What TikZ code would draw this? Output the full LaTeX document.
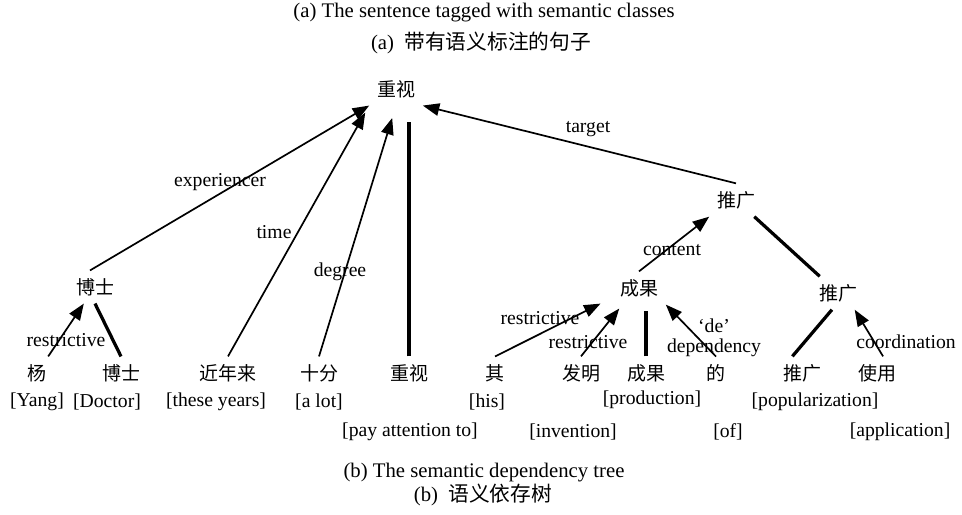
\documentclass[tikz,border=0pt]{standalone}
\usepackage{fontspec}
\setmainfont{Liberation Serif}
\newfontfamily\cjk{Noto Sans CJK SC}
\usetikzlibrary{arrows.meta}

\begin{document}
\begin{tikzpicture}[x=0.02cm, y=-0.02cm,
        word/.style={inner sep=0.15cm, font=\cjk\fontsize{10.8}{13}\selectfont},
        gloss/.style={inner sep=0pt, font=\fontsize{11.2}{13}\selectfont},
        rel/.style={inner sep=0pt, font=\fontsize{11.2}{11.4}\selectfont},
        capt/.style={inner sep=0pt, font=\fontsize{11.8}{14}\selectfont},
        dep/.style={line width=0.034cm, -{Triangle[length=3.3mm,width=2.5mm]}},
        head/.style={line width=0.065cm}]
                \useasboundingbox (0,0) rectangle (962,514);
                \node[capt] (capa) at (484,13) {(a) The sentence tagged with semantic classes};
                \node[capt] (capacn) at (481,43) {(a)\hspace{0.5em}{\cjk 带有语义标注的句子}};
                % tree
                \node[word] (top) at (396,89) {重视};
                \node[word] (bs) at (95,287) {博士};
                \node[word] (tg) at (736,200) {推广};
                \node[word] (cg) at (639,288) {成果};
                \node[word] (tgb) at (838,293) {推广};
                \foreach \n/\x/\w in {yang/37/杨, bsl/121/博士, jnl/228/近年来, sf/319/十分, zs/409/重视,
                                qi/495/其, fm/581/发明, cgl/646/成果, de/716/的, tgl/802/推广, sy/877/使用} {
                                \node[word] (\n) at (\x,373) {\w};
                        }
                % glosses
                \node[gloss] (gyang) at (37,402) {[Yang]};
                \node[gloss] (gbsl) at (107,402) {[Doctor]};
                \node[gloss] (gjnl) at (216,402) {[these years]};
                \node[gloss] (gsf) at (319,402) {[a lot]};
                \node[gloss] (gzs) at (410,432) {[pay attention to]};
                \node[gloss] (gqi) at (487,402) {[his]};
                \node[gloss] (gfm) at (573,432) {[invention]};
                \node[gloss] (gcgl) at (652,400) {[production]};
                \node[gloss] (gde) at (728,432) {[of]};
                \node[gloss] (gtgl) at (815,402) {[popularization]};
                \node[gloss] (gsy) at (900,432) {[application]};
                % relations
                \draw[dep] ([xshift=-0.1cm]bs.north) -- (top.south west);
                \draw[dep, shorten >=0.16cm] (jnl.north) -- (top.south west);
                \draw[dep, shorten >=0.26cm] (sf.north) -- (top.south);
                \draw[head, shorten >=0.32cm] (zs.north) -- (zs.north |- top.south);
                \draw[dep] (tg.north) -- (top.south east);
                \draw[dep] (yang) -- (bs);
                \draw[head] (bs.south) -- (bsl.north);
                \draw[dep] (cg.north) -- (tg.south west);
                \draw[head] (tg) -- (tgb);
                \draw[dep, shorten >=0.26cm] (qi.north) -- (cg.200);
                \draw[dep, shorten >=0.1cm] (fm.north) -- (cg.225);
                \draw[head, shorten >=0.12cm] (cgl.north) -- (cgl.north |- cg.south);
                \draw[dep] (de.north) -- (cg.south east);
                \draw[head] (tgl.120) -- (tgb.250);
                \draw[dep] (sy.70) -- (tgb.315);
                \node[rel] (lexp) at (220,182) {experiencer};
                \node[rel] (ltime) at (274,232) {time};
                \node[rel] (ldeg) at (340,272) {degree};
                \node[rel] (ltar) at (588,129) {target};
                \node[rel] (lcon) at (672,250) {content};
                \node[rel] (lres) at (66,340) {restrictive};
                \node[rel] (lresa) at (540,318) {restrictive};
                \node[rel] (lresb) at (588,342) {restrictive};
                \node[rel, align=center] (lde) at (714,338) {`de'\\dependency};
                \node[rel] (lcoo) at (906,342) {coordination};
                \node[capt] (capb) at (484,473) {(b) The semantic dependency tree};
                \node[capt] (capbcn) at (483,495) {(b)\hspace{0.5em}{\cjk 语义依存树}};
\end{tikzpicture}
\end{document}
